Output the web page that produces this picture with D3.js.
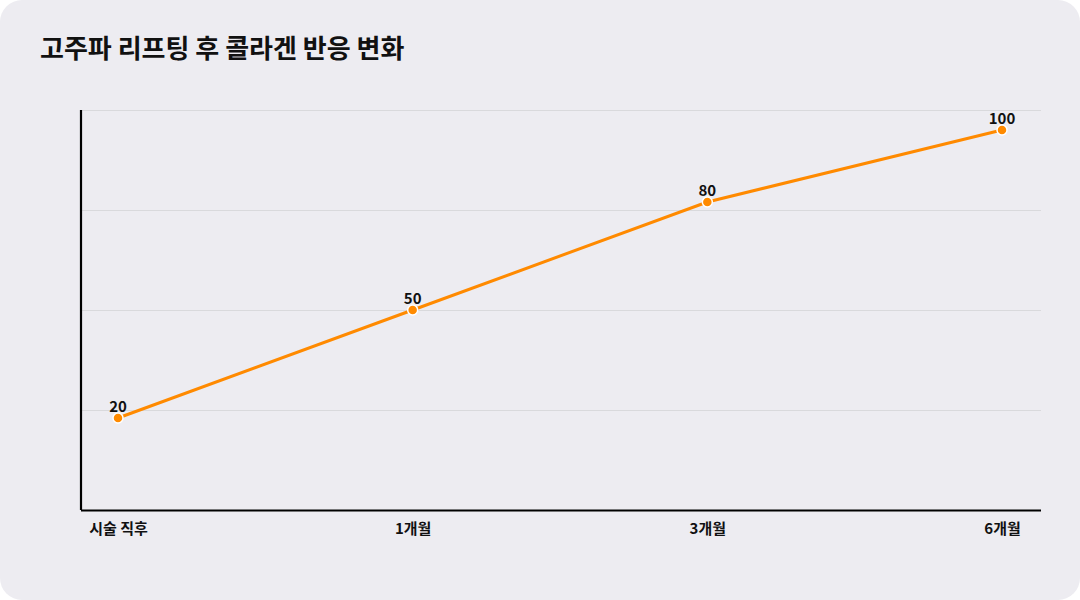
<!DOCTYPE html>
<html>
<head>
<meta charset="utf-8">
<script src="https://cdn.jsdelivr.net/npm/d3@7"></script>
<style>
  html, body { margin: 0; padding: 0; background: #ffffff; }
  svg { display: block; }
  text { font-family: "Noto Sans CJK KR", "Noto Sans", sans-serif; }
</style>
</head>
<body>
<script>
// 데이터
var categories = ['시술 직후', '1개월', '3개월', '6개월'];
var values = [20, 50, 80, 100];
var title = '고주파 리프팅 후 콜라겐 반응 변화';

var width = 1080,
    height = 600,
    margin = {left: 81, top: 110, right: 39, bottom: 90},
    g_width = width - margin.left - margin.right,
    g_height = height - margin.top - margin.bottom;

var svg = d3.select('body').append('svg')
    .attr('width', width)
    .attr('height', height);

// 카드 배경
svg.append('rect')
    .attr('width', width).attr('height', height)
    .attr('rx', 22).attr('ry', 22)
    .attr('fill', '#edecf1');

svg.append('text')
    .attr('x', 40).attr('y', 58)
    .attr('font-size', 26).attr('font-weight', 700)
    .attr('fill', '#111111')
    .text(title);

var g = svg.append('g').attr('transform', 'translate(' + margin.left + ',' + margin.top + ')');

var scale_x = d3.scalePoint().domain(categories).range([37, g_width - 39]);
var scale_y = d3.scaleLinear().domain([0, 100]).range([g_height - 20, 20]);

// 격자선 (4등분)
var grid = d3.range(4).map(function(i){ return i * g_height / 4; });
g.selectAll('.grid').data(grid).enter().append('line')
    .attr('class', 'grid')
    .attr('x1', 0).attr('x2', g_width)
    .attr('y1', function(d){ return d + 0.5; })
    .attr('y2', function(d){ return d + 0.5; })
    .attr('stroke', '#d9d9dc').attr('stroke-width', 1);

// 축
var x_axis = d3.axisBottom(scale_x).tickSize(0).tickPadding(13);
var xg = g.append('g').attr('transform', 'translate(0,' + g_height + ')').call(x_axis);
xg.select('.domain').attr('stroke', '#000').attr('stroke-width', 2.2).attr('d', 'M0,0.5H' + g_width);
xg.selectAll('text')
    .attr('font-size', 15).attr('font-weight', 700).attr('fill', '#111')
    .attr('font-family', '"Noto Sans CJK KR", sans-serif');

g.append('line')
    .attr('x1', 0).attr('x2', 0).attr('y1', 0).attr('y2', g_height)
    .attr('stroke', '#000').attr('stroke-width', 2.2);

// 선
var line_generator = d3.line()
    .x(function(d, i){ return scale_x(categories[i]); })
    .y(function(d){ return scale_y(d); });

g.append('path')
    .attr('d', line_generator(values))
    .attr('fill', 'none')
    .attr('stroke', '#ff8a00')
    .attr('stroke-width', 3);

g.selectAll('.dot').data(values).enter().append('circle')
    .attr('class', 'dot')
    .attr('cx', function(d, i){ return scale_x(categories[i]); })
    .attr('cy', function(d){ return scale_y(d); })
    .attr('r', 5)
    .attr('fill', '#ff8a00')
    .attr('stroke', '#ffffff').attr('stroke-width', 1.5);

g.selectAll('.label').data(values).enter().append('text')
    .attr('class', 'label')
    .attr('x', function(d, i){ return scale_x(categories[i]); })
    .attr('y', function(d){ return scale_y(d) - 6; })
    .attr('text-anchor', 'middle')
    .attr('font-size', 15).attr('font-weight', 700).attr('fill', '#111')
    .text(function(d){ return d; });
</script>
</body>
</html>
